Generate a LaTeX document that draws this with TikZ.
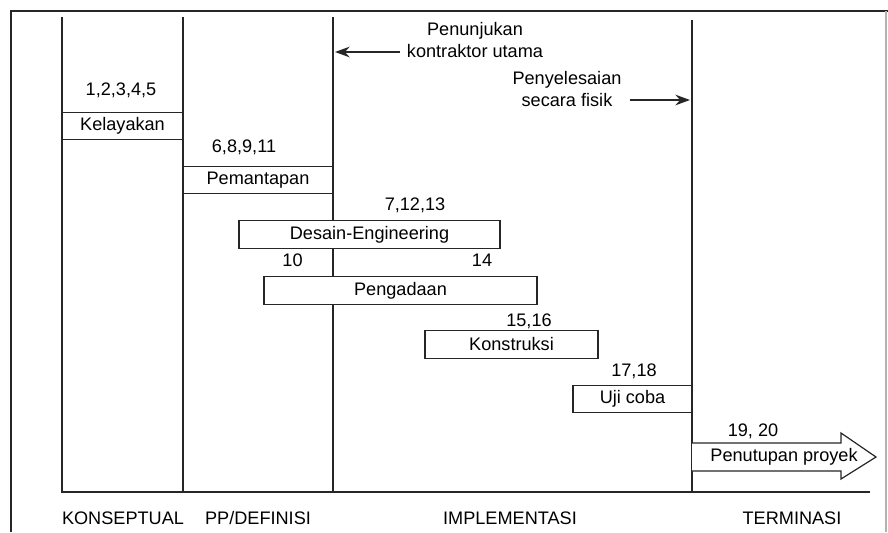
\documentclass[tikz,border=0pt]{standalone}
\usepackage{fontspec}
\setmainfont{Liberation Sans}
\usetikzlibrary{arrows.meta}
\tikzset{
  frameline/.style={line width=1.4pt, draw=black!85},
  phaseline/.style={line width=1.4pt, draw=black!85},
  phasebox/.style={draw=black!85, line width=0.9pt, fill=white, inner sep=0pt,
    minimum width=#1*0.75pt, minimum height=20.5pt, font=\fontsize{13.6}{16}\selectfont},
  numlabel/.style={font=\fontsize{13.6}{16}\selectfont, inner sep=0pt},
  notelabel/.style={font=\fontsize{13.6}{16}\selectfont, inner sep=0pt, align=center},
  phaselabel/.style={font=\fontsize{13.6}{16}\selectfont, inner sep=0pt},
  pointer/.style={line width=1pt, draw=black!85, -{Stealth[length=11pt,width=8pt]}},
  closing/.style={line width=0.9pt, draw=black!85, fill=white, line join=miter},
}
\begin{document}
\begin{tikzpicture}[x=0.75pt,y=-0.75pt]
\useasboundingbox (0,0) rectangle (888,532);
% frame of the page
\coordinate (f-bl) at (11,532);
\coordinate (f-tl) at (11,11);
\coordinate (f-tr) at (888,11);
\draw[frameline] (f-bl) -- (f-tl) -- (f-tr);
\draw[line width=0.8pt, draw=black!30] (886,11) -- (886,532);
% phase lines
\coordinate (a-top) at (62,17);   \coordinate (a-bot) at (62,492);
\coordinate (b-top) at (183,17);  \coordinate (b-bot) at (183,492);
\coordinate (c-top) at (333,17);  \coordinate (c-bot) at (333,492);
\coordinate (d-top) at (692,20);  \coordinate (d-bot) at (692,492);
\coordinate (e-bot) at (870,492);
\draw[phaseline] (a-top) -- (a-bot) -- (e-bot);
\draw[phaseline] (b-top) -- (b-bot);
\draw[phaseline] (c-top) -- (c-bot);
\draw[phaseline] (d-top) -- (d-bot);
% activity boxes
\node[phasebox=121] (kelayakan) at (122.5,126) {Kelayakan};
\node[phasebox=150] (pemantapan) at (258,180) {Pemantapan};
\node[phasebox=261] (desain) at (369.5,234.5) {Desain-Engineering};
\node[phasebox=273] (pengadaan) at (400.5,290.5) {Pengadaan};
\node[phasebox=173] (konstruksi) at (511.5,344.5) {Konstruksi};
\node[phasebox=119] (ujicoba) at (632.5,399) {Uji coba};
% closing arrow
\draw[closing] (d-bot |- 0,443) coordinate (pen-a) -- (841,443) -- (841,433) -- (876,457)
  -- (841,479) -- (841,471) -- (d-bot |- 0,471) coordinate (pen-b);
\node[numlabel] (penutupan) at (784,457) {Penutupan proyek};
% activity numbers
\node[numlabel] (n-kelayakan) at (121,90) {1,2,3,4,5};
\node[numlabel] (n-pemantapan) at (244,147) {6,8,9,11};
\node[numlabel] (n-desain) at (415,205) {7,12,13};
\node[numlabel] (n-desain-a) at (292.5,260) {10};
\node[numlabel] (n-desain-b) at (482,260) {14};
\node[numlabel] (n-konstruksi) at (529,321) {15,16};
\node[numlabel] (n-ujicoba) at (634,371) {17,18};
\node[numlabel] (n-penutupan) at (753,431) {19, 20};
% milestones
\node[notelabel] (tunjuk) at (475,40) {Penunjukan\\[1pt]kontraktor utama};
\coordinate (tunjuk-end) at (335,52);
\draw[pointer] (tunjuk.west |- tunjuk-end) ++(-5pt,0) -- (tunjuk-end);
\node[notelabel] (selesai) at (567,89) {Penyelesaian\\[1pt]secara fisik};
\coordinate (selesai-end) at (690,100);
\draw[pointer] (selesai.east |- selesai-end) ++(6pt,0) -- (selesai-end);
% phase names
\node[phaselabel] (konseptual) at (123,518) {KONSEPTUAL};
\node[phaselabel] (definisi) at (258,518) {PP/DEFINISI};
\node[phaselabel] (implementasi) at (510,518) {IMPLEMENTASI};
\node[phaselabel] (terminasi) at (792,518) {TERMINASI};
\end{tikzpicture}
\end{document}
